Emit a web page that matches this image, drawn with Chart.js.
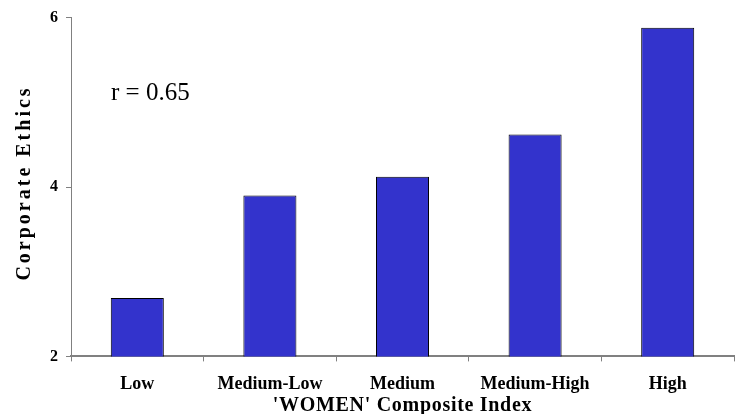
<!DOCTYPE html>
<html>
<head>
<meta charset="utf-8">
<script src="https://cdn.jsdelivr.net/npm/chart.js@4/dist/chart.umd.min.js"></script>
<style>
  html, body { margin: 0; padding: 0; background: #fff; }
  #wrap { width: 744px; height: 414px; }
</style>
</head>
<body>
<div id="wrap"><canvas id="chart" width="744" height="414"></canvas></div>
<script>
// data
const categories = ['Low', 'Medium-Low', 'Medium', 'Medium-High', 'High'];
const ethicsScores = [2.69, 3.90, 4.12, 4.62, 5.88];
const yTicks = [2, 4, 6];
const note = 'r = 0.65';
const xTitle = "'WOMEN' Composite Index";
const yTitle = 'Corporate Ethics';

const serif = '"Liberation Serif", "Times New Roman", serif';
const axisGrey = '#808080';

// note + axis titles (titles are letter-spaced in the original, so drawn by hand)
const textPlugin = {
    id: 'texts',
    afterDraw(chart) {
        const ctx = chart.ctx;
        const area = chart.chartArea;
        ctx.save();
        ctx.fillStyle = '#000';
        ctx.textBaseline = 'alphabetic';

        ctx.font = '25px ' + serif;
        ctx.textAlign = 'left';
        ctx.fillText(note, area.left + 40, area.top + 82);

        ctx.font = 'bold 20px ' + serif;
        ctx.textAlign = 'center';
        ctx.letterSpacing = '0.7px';
        ctx.fillText(xTitle, (area.left + area.right) / 2, 411);

        ctx.letterSpacing = '3px';
        ctx.translate(30, (area.top + area.bottom) / 2 - 4);
        ctx.rotate(-Math.PI / 2);
        ctx.fillText(yTitle, 0, 0);
        ctx.restore();
    }
};

new Chart(document.getElementById('chart'), {
    type: 'bar',
    data: {
        labels: categories,
        datasets: [{
            data: ethicsScores,
            backgroundColor: '#3333CC',
            borderColor: '#000',
            borderWidth: 1,
            categoryPercentage: 1,
            barPercentage: 0.4
        }]
    },
    options: {
        responsive: false,
        animation: false,
        layout: { padding: { top: 7, right: 10, left: 42, bottom: 7 } },
        plugins: {
            legend: { display: false },
            tooltip: { enabled: false }
        },
        scales: {
            x: {
                border: { display: true, color: axisGrey, width: 2 },
                grid: { offset: true, drawOnChartArea: false, tickLength: 5, color: axisGrey },
                ticks: {
                    color: '#000',
                    padding: 12,
                    maxRotation: 0,
                    font: { family: serif, size: 18, weight: 'bold' }
                }
            },
            y: {
                min: 2,
                max: 6,
                afterBuildTicks(scale) {
                    scale.ticks = yTicks.map(v => ({ value: v }));
                },
                border: { display: true, color: axisGrey, width: 1 },
                grid: { drawOnChartArea: false, tickLength: 5, color: axisGrey },
                ticks: {
                    color: '#000',
                    padding: 8,
                    font: { family: serif, size: 16, weight: 'bold' }
                }
            }
        }
    },
    plugins: [textPlugin]
});
</script>
</body>
</html>
